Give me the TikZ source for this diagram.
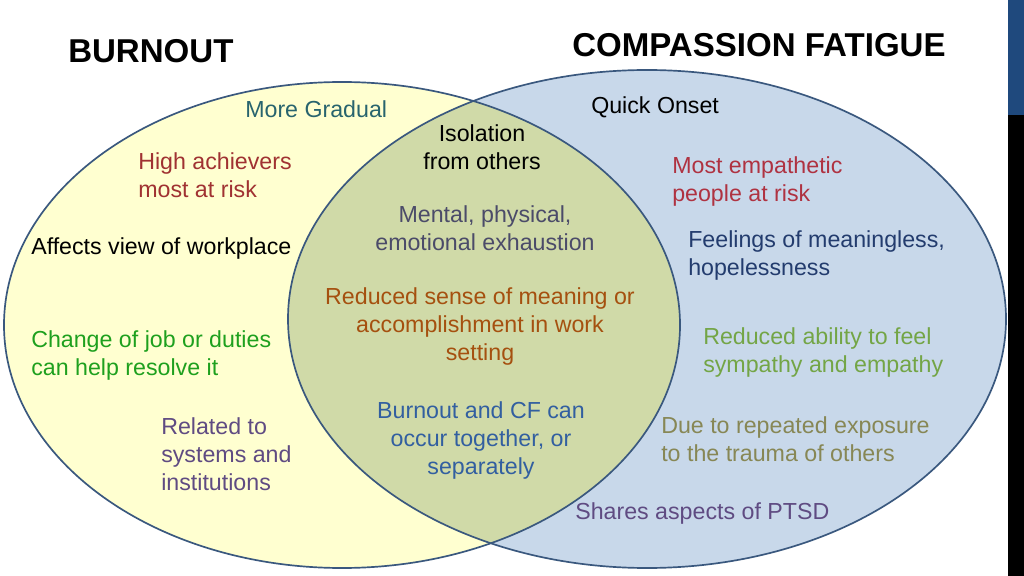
\documentclass[tikz,border=0pt]{standalone}
\usepackage{fontspec}
\setmainfont{Liberation Sans}
\begin{document}
\begin{tikzpicture}[x=0.025cm,y=-0.025cm,
 lbl/.style={font=\fontsize{16.5}{20}\selectfont,align=left,anchor=north west,inner sep=0},
 ctr/.style={font=\fontsize{16.5}{20}\selectfont,align=center,anchor=north,inner sep=0},
 ttl/.style={font=\fontsize{23.5}{26}\selectfont\bfseries,anchor=north west,inner sep=0}]
\definecolor{yel}{RGB}{255,255,208}
\definecolor{blu}{RGB}{200,216,234}
\definecolor{grn}{RGB}{208,218,168}
\definecolor{edge}{RGB}{58,88,126}
\definecolor{bar}{RGB}{31,73,125}
\definecolor{cA}{RGB}{40,100,110}
\definecolor{cB}{RGB}{160,50,50}
\definecolor{cD}{RGB}{30,160,30}
\definecolor{cE}{RGB}{95,75,130}
\definecolor{cG}{RGB}{175,50,65}
\definecolor{cH}{RGB}{35,60,110}
\definecolor{cI}{RGB}{115,165,70}
\definecolor{cJ}{RGB}{135,135,85}
\definecolor{cM}{RGB}{75,75,105}
\definecolor{cN}{RGB}{165,80,15}
\definecolor{cO}{RGB}{50,95,160}
\useasboundingbox (0,0) rectangle (1024,576);
\fill[white] (0,0) rectangle (1024,576);
\fill[bar] (1008,0) rectangle (1024,115);
\fill[black] (1008,115) rectangle (1024,576);
\fill[blu] (647,319) ellipse [x radius=359,y radius=249];
\fill[yel] (342,325) ellipse [x radius=338,y radius=243];
\begin{scope}
\clip (647,319) ellipse [x radius=359,y radius=249];
\fill[grn] (342,325) ellipse [x radius=338,y radius=243];
\end{scope}
\draw[edge,line width=1.2pt] (342,325) ellipse [x radius=338,y radius=243];
\draw[edge,line width=1.2pt] (647,319) ellipse [x radius=359,y radius=249];
\node[ttl] (t1) at (68,39) {BURNOUT};
\node[ttl] (t2) at (572,33) {COMPASSION FATIGUE};
\node[lbl,text=cA] (a) at (245,100) {More Gradual};
\node[lbl,text=cB] (b) at (138,152) {High achievers\\most at risk};
\node[lbl] (c) at (31,237) {Affects view of workplace};
\node[lbl,text=cD] (d) at (31,330) {Change of job or duties\\can help resolve it};
\node[lbl,text=cE] (e) at (161,417) {Related to\\systems and\\institutions};
\node[lbl] (f) at (591,96) {Quick Onset};
\node[lbl,text=cG] (g) at (672,156) {Most empathetic\\people at risk};
\node[lbl,text=cH] (h) at (688,230) {Feelings of meaningless,\\hopelessness};
\node[lbl,text=cI] (i) at (703,327) {Reduced ability to feel\\sympathy and empathy};
\node[lbl,text=cJ] (j) at (661,416) {Due to repeated exposure\\to the trauma of others};
\node[lbl,text=cE] (k) at (575,502) {Shares aspects of PTSD};
\node[ctr] (l) at (482,124) {Isolation\\from others};
\node[ctr,text=cM] (m) at (485,205) {Mental, physical,\\emotional exhaustion};
\node[ctr,text=cN] (n) at (480,287) {Reduced sense of meaning or\\accomplishment in work\\setting};
\node[ctr,text=cO] (o) at (481,401) {Burnout and CF can\\occur together, or\\separately};
\end{tikzpicture}
\end{document}
